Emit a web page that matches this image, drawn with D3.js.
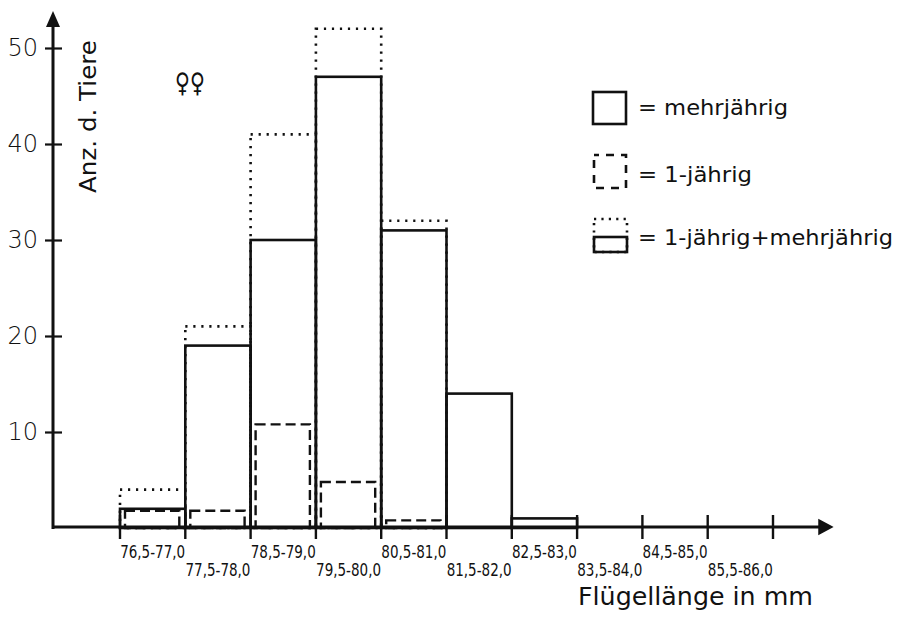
<!DOCTYPE html>
<html>
<head>
<meta charset="utf-8">
<script src="https://cdn.jsdelivr.net/npm/d3@7"></script>
<style>
  html, body { margin: 0; padding: 0; background: #fff; }
  svg { display: block; }
  text { font-family: "DejaVu Sans", "Liberation Sans", sans-serif; fill: #111; }
</style>
</head>
<body>
<svg id="chart" width="901" height="618"></svg>
<script>
// ---- data ----
const categories = ["76,5-77,0","77,5-78,0","78,5-79,0","79,5-80,0","80,5-81,0",
                    "81,5-82,0","82,5-83,0","83,5-84,0","84,5-85,0","85,5-86,0"];
const mehrjaehrig = [2, 19, 30, 47, 31, 14, 1, 0, 0, 0];
const einjaehrig  = [2, 2, 11, 5, 1, 0, 0, 0, 0, 0];
const yTickValues = [10, 20, 30, 40, 50];
const legendLabels = ["= mehrjährig", "= 1-jährig", "= 1-jährig+mehrjährig"];
const xTitle = "Flügellänge in mm";
const yTitle = "Anz. d. Tiere";
const sexSymbol = "♀♀";

// ---- layout ----
const svg = d3.select("#chart");
const axisX0 = 53, axisY0 = 528;
const x = d3.scaleBand().domain(categories).range([120, 773]).paddingInner(0).paddingOuter(0);
const y = d3.scaleLinear().domain([0, 50]).range([axisY0, 48]);
const bw = x.bandwidth();
const ink = "#111";

const rows = categories.map((c, i) => ({
  cat: c, m: mehrjaehrig[i], e: einjaehrig[i], total: mehrjaehrig[i] + einjaehrig[i]
}));

// combined (dotted) outline
svg.append("g").selectAll("rect").data(rows.filter(d => d.e > 0)).join("rect")
  .attr("x", d => x(d.cat)).attr("width", bw)
  .attr("y", d => y(d.total)).attr("height", d => axisY0 - y(d.total))
  .attr("fill", "none").attr("stroke", ink).attr("stroke-width", 2.6)
  .attr("stroke-dasharray", "2.2,5.8");

// mehrjaehrig (solid)
svg.append("g").selectAll("rect").data(rows.filter(d => d.m > 0)).join("rect")
  .attr("x", d => x(d.cat)).attr("width", bw)
  .attr("y", d => y(d.m)).attr("height", d => axisY0 - y(d.m))
  .attr("fill", "none").attr("stroke", ink).attr("stroke-width", 2.6);

// 1-jaehrig (dashed, inset)
svg.append("g").selectAll("rect").data(rows.filter(d => d.e > 0)).join("rect")
  .attr("x", d => x(d.cat) + 5).attr("width", bw - 11)
  .attr("y", d => y(d.e) + 2).attr("height", d => axisY0 - y(d.e) - 2)
  .attr("fill", "none").attr("stroke", ink).attr("stroke-width", 2.4)
  .attr("stroke-dasharray", "10,5");

// ---- y axis ----
const yAxis = svg.append("g").attr("transform", `translate(${axisX0},0)`)
  .call(d3.axisLeft(y).tickValues(yTickValues).tickSize(8).tickPadding(7));
yAxis.select(".domain").remove();
yAxis.selectAll(".tick line").attr("x1", 9).attr("x2", -8)
  .attr("stroke", ink).attr("stroke-width", 2.2);
yAxis.selectAll(".tick text").attr("font-size", 24).attr("fill", ink)
  .attr("font-family", "DejaVu Sans Condensed, DejaVu Sans").attr("font-weight", 300);
svg.append("line").attr("x1", axisX0).attr("x2", axisX0)
  .attr("y1", axisY0 + 1).attr("y2", 22)
  .attr("stroke", ink).attr("stroke-width", 3);
svg.append("path").attr("d", `M${axisX0},11 L${axisX0 - 7},27 L${axisX0 + 7},27 Z`)
  .attr("fill", ink);

// ---- x axis ----
const xEnd = 832;
svg.append("line").attr("x1", axisX0 - 1).attr("x2", xEnd - 8)
  .attr("y1", axisY0 - 1).attr("y2", axisY0 - 1)
  .attr("stroke", ink).attr("stroke-width", 3);
svg.append("path")
  .attr("d", `M${xEnd},${axisY0 - 1} L${xEnd - 13},${axisY0 - 8} L${xEnd - 13},${axisY0 + 6} Z`)
  .attr("fill", ink).attr("stroke", ink).attr("stroke-width", 1.5);

const edges = categories.map(c => x(c)).concat([x.range()[1]]);
svg.append("g").selectAll("line").data(edges).join("line")
  .attr("x1", d => d).attr("x2", d => d)
  .attr("y1", axisY0 - 13).attr("y2", axisY0 + 11)
  .attr("stroke", ink).attr("stroke-width", 2.4);

const xAxis = svg.append("g").attr("transform", `translate(0,${axisY0})`)
  .call(d3.axisBottom(x).tickSize(0).tickPadding(0));
xAxis.select(".domain").remove();
xAxis.selectAll(".tick text")
  .attr("font-size", 18).attr("fill", ink).attr("font-family", "DejaVu Sans Condensed, DejaVu Sans")
  .attr("dy", null)
  .attr("y", (d, i) => i % 2 === 0 ? 30 : 48)
  .attr("textLength", 65).attr("lengthAdjust", "spacingAndGlyphs");

// axis titles
svg.append("text").attr("x", 578).attr("y", 605)
  .attr("font-size", 24).attr("textLength", 235).attr("lengthAdjust", "spacingAndGlyphs")
  .text(xTitle);
svg.append("text").attr("transform", "translate(96,193) rotate(-90)")
  .attr("font-size", 23).attr("textLength", 153).attr("lengthAdjust", "spacingAndGlyphs")
  .text(yTitle);

// sex symbol
svg.append("text").attr("x", 175).attr("y", 92).attr("font-size", 27)
  .attr("textLength", 30).attr("lengthAdjust", "spacingAndGlyphs")
  .text(sexSymbol);

// ---- legend ----
const lg = svg.append("g");
// solid box
lg.append("rect").attr("x", 593).attr("y", 92).attr("width", 33).attr("height", 32)
  .attr("fill", "none").attr("stroke", ink).attr("stroke-width", 2.6);
// dashed box
lg.append("rect").attr("x", 594).attr("y", 155).attr("width", 32).attr("height", 33)
  .attr("fill", "none").attr("stroke", ink).attr("stroke-width", 2.6)
  .attr("stroke-dasharray", "8,7").attr("stroke-dashoffset", 3);
// combined box: dotted upper part, solid lower part
lg.append("rect").attr("x", 594).attr("y", 219).attr("width", 33).attr("height", 33)
  .attr("fill", "none").attr("stroke", ink).attr("stroke-width", 2.6)
  .attr("stroke-dasharray", "2.2,5.2");
lg.append("rect").attr("x", 594).attr("y", 237).attr("width", 33).attr("height", 15)
  .attr("fill", "none").attr("stroke", ink).attr("stroke-width", 2.6);

const legendY = [115, 182, 245];
const legendW = [150, 114, 255];
lg.selectAll("text").data(legendLabels).join("text")
  .attr("x", 638).attr("y", (d, i) => legendY[i])
  .attr("font-size", 22)
  .attr("textLength", (d, i) => legendW[i]).attr("lengthAdjust", "spacingAndGlyphs")
  .text(d => d);
</script>
</body>
</html>
